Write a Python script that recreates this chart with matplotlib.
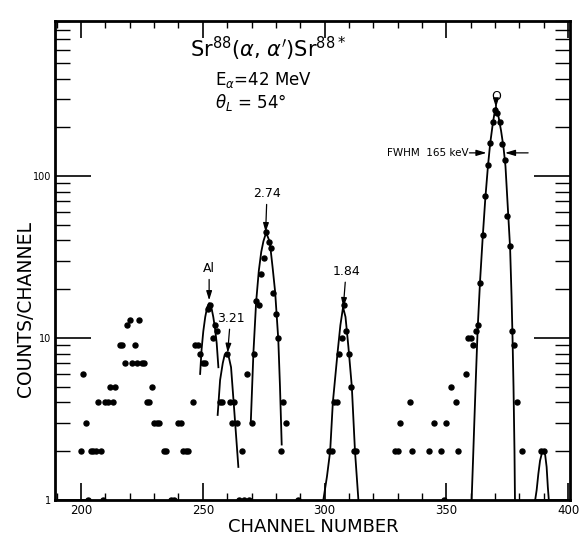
import matplotlib
matplotlib.use('Agg')
import matplotlib.pyplot as plt
from matplotlib.ticker import FixedLocator, NullFormatter, FixedFormatter

plt.rcParams['font.family'] = ['DejaVu Sans']
plt.rcParams['mathtext.fontset'] = 'dejavusans'

# ---------------- data ----------------
channels = [200, 201, 202, 203, 204, 205, 206, 207, 208, 209, 210, 211, 212, 213, 214,
            216, 217, 218, 219, 220, 221, 222, 223, 224, 225, 226, 227, 228, 229, 230,
            231, 232, 234, 235, 237, 238, 240, 241, 242, 243, 244, 246, 247, 248, 249,
            250, 251, 252, 253, 254, 255, 256, 257, 258, 260, 261, 262, 263, 264, 265,
            266, 267, 268, 269, 270, 271, 272, 273, 274, 275, 276, 277, 278, 279, 280,
            281, 282, 283, 284, 289, 302, 303, 304, 305, 306, 307, 308, 309, 310, 311,
            312, 313, 329, 330, 331, 335, 336, 343, 345, 348, 349, 350, 352, 354, 355,
            358, 359, 360, 361, 362, 363, 364, 365, 366, 367, 368, 369, 370, 371, 372,
            373, 374, 375, 376, 377, 378, 379, 381, 389, 390]
counts = [2, 6, 3, 1, 2, 2, 2, 4, 2, 1, 4, 4, 5, 4, 5,
          9, 9, 7, 12, 13, 7, 9, 7, 13, 7, 7, 4, 4, 5, 3,
          3, 3, 2, 2, 1, 1, 3, 3, 2, 2, 2, 4, 9, 9, 8,
          7, 7, 15, 16, 10, 12, 11, 4, 4, 8, 4, 3, 4, 3, 1,
          2, 1, 6, 1, 3, 8, 17, 16, 25, 31, 45, 39, 36, 19, 14,
          10, 2, 4, 3, 1, 2, 2, 4, 4, 8, 10, 16, 11, 8, 5,
          2, 2, 2, 2, 3, 4, 2, 2, 3, 2, 1, 3, 5, 4, 2,
          6, 10, 10, 9, 11, 12, 22, 43, 75, 117, 159, 216, 255, 245, 216,
          157, 125, 57, 37, 11, 9, 4, 2, 2, 2]

# hand-drawn fit curves (vertices)
al_fit_ch = [248.9, 249.5, 250.2, 251.0, 251.8, 252.6, 253.5, 254.3, 255.0, 255.7, 256.4]
al_fit_counts = [6.0, 8.5, 11.0, 13.5, 15.5, 16.4, 15.5, 13.5, 11.5, 9.3, 6.6]

p321_fit_ch = [256.1, 257.1, 258.2, 259.0, 259.8, 260.7, 261.6, 262.7, 263.7, 264.6]
p321_fit_counts = [3.35, 5.5, 7.0, 7.9, 8.1, 7.6, 6.6, 3.95, 2.46, 1.6]

p274_fit_ch = [269.7, 270.8, 271.9, 273.0, 274.0, 274.9, 276.0, 277.0, 277.6, 278.7,
               279.7, 281.0, 281.7, 282.4]
p274_fit_counts = [3.0, 8.2, 16.7, 26, 34, 39.6, 44.7, 41, 38, 27, 19.3, 9.8, 5.0, 2.2]

p184_fit_ch = [299.5, 301.0, 302.3, 303.4, 305.3, 306.5, 307.6, 308.6, 309.8, 311.2,
               312.5, 313.9]
p184_fit_counts = [1.0, 1.4, 2.0, 4.0, 8.0, 12.0, 15.5, 13.5, 8.8, 5.0, 2.0, 1.0]

p0_fit_ch = [360.4, 361.0, 361.5, 362.2, 362.9, 363.9, 365.0, 366.0, 367.1, 368.0,
             369.1, 369.8, 370.4, 371.5, 372.5, 373.5, 374.3, 375.0, 375.6, 376.2,
             376.8, 377.2, 377.6, 378.0, 378.2]
p0_fit_counts = [1.0, 1.8, 3.0, 6.0, 11.6, 23, 43, 72, 115, 158,
                 211, 245, 267, 230, 190, 150, 115, 75, 52, 36,
                 18, 10, 5, 2, 1.0]

p390_fit_ch = [386.5, 387.1, 387.8, 388.5, 389.2, 389.9, 390.6, 391.2, 391.7, 392.1]
p390_fit_counts = [1.0, 1.15, 1.45, 1.75, 1.93, 1.97, 1.9, 1.6, 1.2, 1.0]

# peak labels: text, channel and height of the arrow tip
peak_labels = ['Al', '3.21', '2.74', '1.84', 'O']
peak_ch = [252.6, 260.2, 275.8, 307.7, 370.4]
peak_tip = [17.1, 8.1, 45.0, 15.5, 265.0]

# FWHM marker of the ground-state peak
fwhm_text = 'FWHM  165 keV'
fwhm_level = 139
fwhm_left = 366.5
fwhm_right = 374.1

x_major = [200, 250, 300, 350, 400]
x_minor = list(range(190, 401, 10))
y_major = [1, 10, 100]
y_major_labels = ['1', '10', '100']
y_minor = [m * d for d in (1, 10, 100) for m in range(2, 10)]

# ---------------- figure ----------------
fig = plt.figure(figsize=(5.79, 5.40), dpi=100)
ax = fig.add_axes([55 / 579, 1 - 500 / 540, (570 - 55) / 579, (500 - 21) / 540])
ax.set_yscale('log')
ax.set_xlim(189.3, 400.8)
ax.set_ylim(1, 906)

ax.plot(channels, counts, 'o', color='black', ms=3.6, mec='black', zorder=3)

for xs, ys in [(al_fit_ch, al_fit_counts), (p321_fit_ch, p321_fit_counts),
               (p274_fit_ch, p274_fit_counts), (p184_fit_ch, p184_fit_counts),
               (p0_fit_ch, p0_fit_counts), (p390_fit_ch, p390_fit_counts)]:
    ax.plot(xs, ys, '-', color='black', lw=1.3, solid_joinstyle='round', zorder=2)

# peak labels with arrows
offsets = {'Al': (0, 18), '3.21': (2, 20), '2.74': (1, 23), '1.84': (2, 21), 'O': (0, 3)}
arrow_style = dict(arrowstyle='-|>,head_length=0.45,head_width=0.14', color='black',
                   lw=0.9, mutation_scale=12, shrinkA=1, shrinkB=0)
for lab, cx, cy in zip(peak_labels, peak_ch, peak_tip):
    dx, dy = offsets[lab]
    ax.annotate(lab, xy=(cx, cy), xytext=(dx, dy), textcoords='offset points',
                ha='center', va='bottom', fontsize=9, arrowprops=arrow_style)

# FWHM arrows
fwhm_arrow = dict(arrowstyle='-|>,head_length=0.5,head_width=0.15',
                  color='black', lw=0.9, mutation_scale=12, shrinkA=0, shrinkB=0)
ax.annotate('', xy=(fwhm_left, fwhm_level), xytext=(fwhm_left - 7.0, fwhm_level),
            arrowprops=fwhm_arrow)
ax.annotate('', xy=(fwhm_right, fwhm_level), xytext=(fwhm_right + 9.5, fwhm_level),
            arrowprops=fwhm_arrow)
ax.text(fwhm_left - 7.2, fwhm_level, fwhm_text, ha='right', va='center', fontsize=7.5)

# reaction text
ax.text(0.262, 0.925, r"Sr$^{88}$($\alpha$, $\alpha^{\prime}$)Sr$^{88*}$",
        transform=ax.transAxes, fontsize=15, ha='left', va='baseline')
ax.text(0.311, 0.867, r"E$_{\alpha}$=42 MeV", transform=ax.transAxes,
        fontsize=12, ha='left', va='baseline')
ax.text(0.311, 0.819, r"$\theta_{L}$ = 54°", transform=ax.transAxes,
        fontsize=12, ha='left', va='baseline')

# axes styling
for sp in ax.spines.values():
    sp.set_linewidth(2.0)

ax.xaxis.set_major_locator(FixedLocator(x_major))
ax.xaxis.set_minor_locator(FixedLocator(x_minor))
ax.xaxis.set_minor_formatter(NullFormatter())
ax.set_xticklabels([str(v) for v in x_major])
ax.yaxis.set_major_locator(FixedLocator(y_major))
ax.yaxis.set_major_formatter(FixedFormatter(y_major_labels))
ax.yaxis.set_minor_locator(FixedLocator(y_minor))
ax.yaxis.set_minor_formatter(NullFormatter())

ax.tick_params(axis='x', which='major', direction='in', length=12, width=1.2,
               top=True, bottom=True, labelsize=8.5, pad=3)
ax.tick_params(axis='x', which='minor', direction='in', length=5, width=1.0,
               top=True, bottom=True)
ax.tick_params(axis='y', which='major', direction='in', length=26, width=1.2,
               left=True, right=True, labelsize=7, pad=3)
ax.tick_params(axis='y', which='minor', direction='in', length=11, width=1.0,
               left=True, right=True)

fig.text(313 / 579, 1 - 527 / 540, 'CHANNEL NUMBER', ha='center', va='center', fontsize=13)
fig.text(26 / 579, 1 - 309 / 540, 'COUNTS/CHANNEL', ha='center', va='center',
         rotation=90, fontsize=13.5)

fig.savefig('out.png', dpi=100)
